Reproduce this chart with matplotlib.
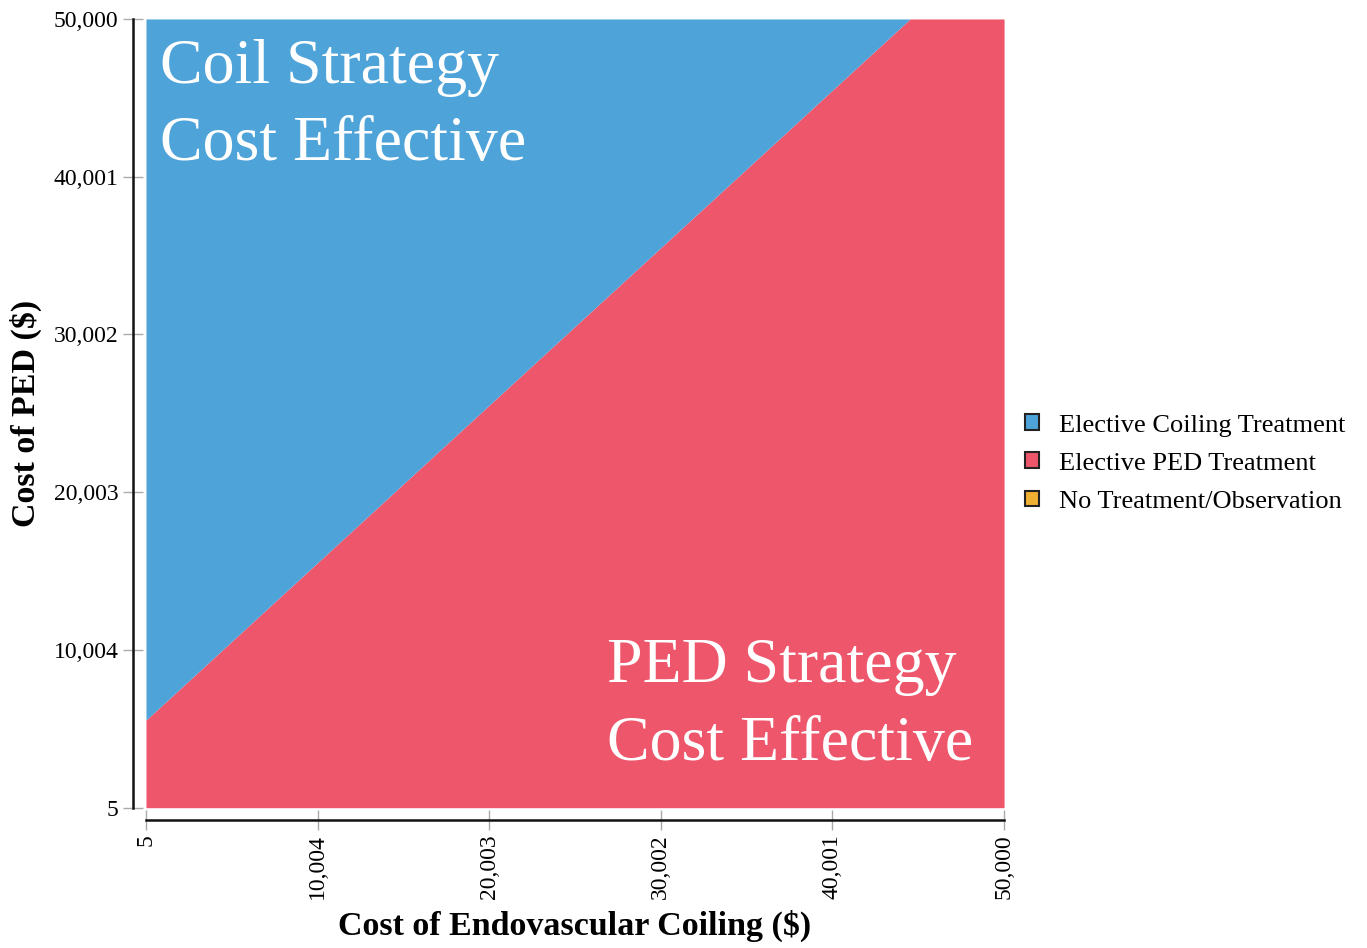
import numpy as np
import matplotlib
matplotlib.use("Agg")
import matplotlib.pyplot as plt
from matplotlib.patches import Patch

# axis ticks (both axes share the same range)
tick_values = [5, 10004, 20003, 30002, 40001, 50000]
tick_labels = ["5", "10,004", "20,003", "30,002", "40,001", "50,000"]

# threshold line where coiling and PED are equally cost effective
coil_cost = [5, 44520, 50000]
ped_threshold = [5560, 50000, 50000]

strategies = ["Elective Coiling Treatment", "Elective PED Treatment", "No Treatment/Observation"]
colors = ["#4ea3d9", "#ee566b", "#f0b032"]

plt.rcParams['font.family'] = ['Liberation Serif', 'DejaVu Serif']

fig = plt.figure(figsize=(13.67, 9.48), dpi=100)
ax = fig.add_axes([0.1068, 0.148, 0.6277, 0.832])

lo, hi = tick_values[0], tick_values[-1]
ax.fill_between(coil_cost, lo, ped_threshold, color=colors[1], linewidth=0)
ax.fill_between(coil_cost, ped_threshold, hi, color=colors[0], linewidth=0)
ax.set_xlim(lo, hi)
ax.set_ylim(lo, hi)

# spines pushed out from the filled area
ax.spines['top'].set_visible(False)
ax.spines['right'].set_visible(False)
ax.spines['left'].set_position(('outward', 9.4))
ax.spines['bottom'].set_position(('outward', 8.6))
for s in ['left', 'bottom']:
    ax.spines[s].set_linewidth(1.8)
    ax.spines[s].set_color('#111111')

ax.set_xticks(tick_values)
ax.set_xticklabels(tick_labels, rotation=90, fontsize=17)
ax.set_yticks(tick_values)
ax.set_yticklabels(tick_labels, fontsize=17)
ax.tick_params(direction='inout', length=15, width=1, color='#aaaaaa', pad=3)

ax.set_xlabel("Cost of Endovascular Coiling ($)", fontsize=24.5, fontweight='bold', labelpad=8)
ax.set_ylabel("Cost of PED ($)", fontsize=24.5, fontweight='bold', labelpad=8)

ax.text(0.016, 0.975, "Coil Strategy\nCost Effective", transform=ax.transAxes,
        color='white', fontsize=46, va='top', ha='left', linespacing=1.45)
ax.text(0.537, 0.215, "PED Strategy\nCost Effective", transform=ax.transAxes,
        color='white', fontsize=46, va='top', ha='left', linespacing=1.45)

handles = [Patch(facecolor=c, edgecolor='#222222', linewidth=1.5) for c in colors]
fig.legend(handles, strategies, loc='upper left', bbox_to_anchor=(0.7498, 0.563),
           bbox_transform=fig.transFigure, frameon=False, fontsize=19,
           handlelength=0.55, handleheight=0.55, handletextpad=0.75,
           labelspacing=0.6, borderpad=0, borderaxespad=0)

fig.savefig("out.png", dpi=100)
plt.close(fig)
